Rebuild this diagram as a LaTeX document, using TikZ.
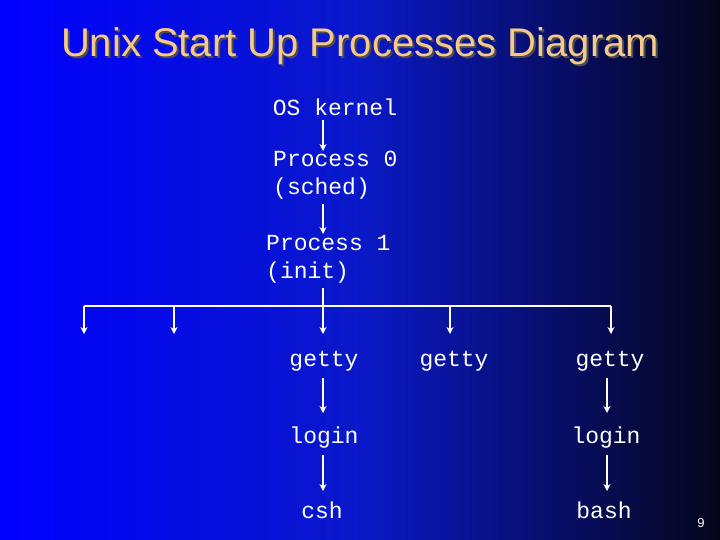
\documentclass[tikz,border=0pt]{standalone}
\usepackage{fontspec}
\usetikzlibrary{arrows.meta}
\setmainfont{Liberation Sans}
\setmonofont{Liberation Mono}
\begin{document}
\begin{tikzpicture}[x=1pt,y=-1pt,
  lbl/.style={font=\ttfamily\fontsize{23}{28}\selectfont,text=white,inner sep=0pt,align=left},
  arr/.style={draw=white,line width=1.6pt,-{Stealth[length=7pt,width=7pt]}},
  ln/.style={draw=white,line width=1.2pt}]
\useasboundingbox (0,0) rectangle (720,540);
\shade[left color={rgb,255:red,0;green,0;blue,255},right color={rgb,255:red,10;green,25;blue,200}] (0,0) rectangle (361,540);
\shade[left color={rgb,255:red,10;green,25;blue,200},right color={rgb,255:red,5;green,5;blue,25}] (360,0) rectangle (720,540);
\node[font=\fontsize{40}{46}\selectfont,text=black!70] (shadow) at (362,48) {Unix Start Up Processes Diagram};
\node[font=\fontsize{40}{46}\selectfont,text={rgb,255:red,245;green,200;blue,140}] (title) at (360,46) {Unix Start Up Processes Diagram};
\node[lbl] (k) at (335,107) {OS kernel};
\node[lbl,anchor=west] (p0) at (273,175) {Process 0\\(sched)};
\node[lbl,anchor=west] (p1) at (266,259) {Process 1\\(init)};
\coordinate (k1) at (323,120); \coordinate (k2) at (323,151);
\draw[arr] (k1) -- (k2);
\coordinate (s1) at (323,204); \coordinate (s2) at (323,234);
\draw[arr] (s1) -- (s2);
\coordinate (i1) at (323,288); \coordinate (hm) at (323,306);
\draw[ln] (i1) -- (hm);
\coordinate (hl) at (84,306); \coordinate (hr) at (611,306);
\draw[ln] (hl) -- (hr);
\foreach \x/\n in {84/a,174/b,323/c,450/d,611/e}{
  \coordinate (t\n) at (\x,306); \coordinate (b\n) at (\x,334);
  \draw[arr] (t\n) -- (b\n);}
\node[lbl] (g1) at (324,361) {getty};
\node[lbl] (g2) at (454,361) {getty};
\node[lbl] (g3) at (610,361) {getty};
\node[lbl] (l1) at (324,438) {login};
\node[lbl] (l3) at (606,438) {login};
\node[lbl] (c1) at (322,510) {csh};
\node[lbl] (c3) at (604,510) {bash};
\coordinate (ga) at (323,378); \coordinate (la) at (323,413);
\coordinate (gb) at (607,378); \coordinate (lb) at (607,413);
\coordinate (ma) at (323,455); \coordinate (na) at (323,491);
\coordinate (mb) at (607,455); \coordinate (nb) at (607,491);
\draw[arr] (ga) -- (la);
\draw[arr] (gb) -- (lb);
\draw[arr] (ma) -- (na);
\draw[arr] (mb) -- (nb);
\node[font=\fontsize{13}{15}\selectfont,text=white] (pg) at (701,523) {9};
\end{tikzpicture}
\end{document}
